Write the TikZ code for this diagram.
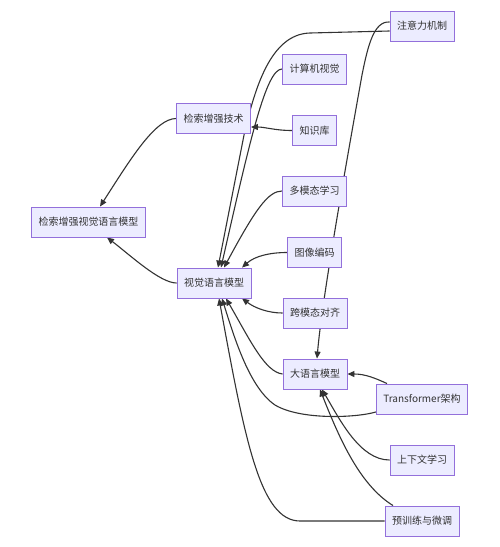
\documentclass[tikz,border=0pt]{standalone}
\usepackage{fontspec}
\setmainfont{Noto Sans CJK SC}
\usetikzlibrary{arrows.meta,backgrounds}
\definecolor{nodefill}{HTML}{ECECFF}
\definecolor{nodeborder}{HTML}{9370DB}
\definecolor{edgecol}{HTML}{333333}
\begin{document}
\begin{tikzpicture}[x=1pt,y=-1pt,
  box/.style={draw=nodeborder, fill=nodefill, line width=0.9pt, minimum height=30pt, inner xsep=7pt, text=edgecol, font=\fontsize{10}{12}\selectfont},
  link/.style={draw=edgecol, line width=1.1pt, -{Triangle[length=7pt,width=6pt]}}]
\path[use as bounding box] (0,0) rectangle (500,547);
\node[box] (rvlm) at (88.5,222) {检索增强视觉语言模型};
\node[box] (tech) at (213.5,118.5) {检索增强技术};
\node[box] (vlm) at (214,283) {视觉语言模型};
\node[box] (att) at (422,26) {注意力机制};
\node[box] (cv) at (314.5,69) {计算机视觉};
\node[box] (kb) at (314.5,130.5) {知识库};
\node[box] (mm) at (314.5,191) {多模态学习};
\node[box] (img) at (314.5,252.5) {图像编码};
\node[box] (align) at (315,313) {跨模态对齐};
\node[box] (llm) at (315,374) {大语言模型};
\node[box] (tf) at (422,399) {Transformer架构};
\node[box] (icl) at (422,460) {上下文学习};
\node[box] (ft) at (422,521) {预训练与微调};
\begin{scope}[on background layer]
\fill[white] (0,0) rectangle (500,547);
\draw[link] (tech.west) .. controls (155,118.5) and (130,160) .. ([xshift=11.5pt]rvlm.north);
\draw[link] (vlm.west) .. controls (160,283) and (130,255) .. ([xshift=18.5pt]rvlm.south);
\draw[link] (kb.west) .. controls (275,130.5) and (265,127) .. ([yshift=-8.5pt]tech.east);
\draw[link] (cv.west) .. controls (266,69) and (250,140) .. ([xshift=7pt]vlm.north);
\draw[link] ([yshift=-5pt]att.west) -- (310,33) .. controls (270,34) and (255,90) .. (245,130) -- ([xshift=4pt]vlm.north);
\draw[link] (mm.west) .. controls (268,191) and (255,210) .. ([xshift=10pt]vlm.north);
\draw[link] (img.west) .. controls (270,252.5) and (255,256) .. ([xshift=28pt]vlm.north);
\draw[link] (align.west) .. controls (268,313) and (255,308) .. ([xshift=28pt]vlm.south);
\draw[link] (llm.west) .. controls (265,372) and (250,340) .. ([xshift=12pt]vlm.south);
\draw[link] ([yshift=-13pt]tf.west) .. controls (355,418) and (300,420) .. (275,405) .. controls (250,388) and (235,340) .. ([xshift=8pt]vlm.south);
\draw[link] (ft.west) -- (300,521) .. controls (260,521) and (245,440) .. ([xshift=5pt]vlm.south);
\draw[link] ([yshift=4pt]att.west) .. controls (374,21) and (368,45) .. (362,75) .. controls (345,170) and (322,300) .. ([xshift=2pt]llm.north);
\draw[link] ([xshift=-35pt]tf.north) .. controls (375,378) and (365,374) .. (llm.east);
\draw[link] (icl.west) .. controls (360,460) and (340,420) .. ([xshift=7pt]llm.south);
\draw[link] ([xshift=-29pt]ft.north) .. controls (360,485) and (340,440) .. ([xshift=5pt]llm.south);
\end{scope}
\end{tikzpicture}
\end{document}
